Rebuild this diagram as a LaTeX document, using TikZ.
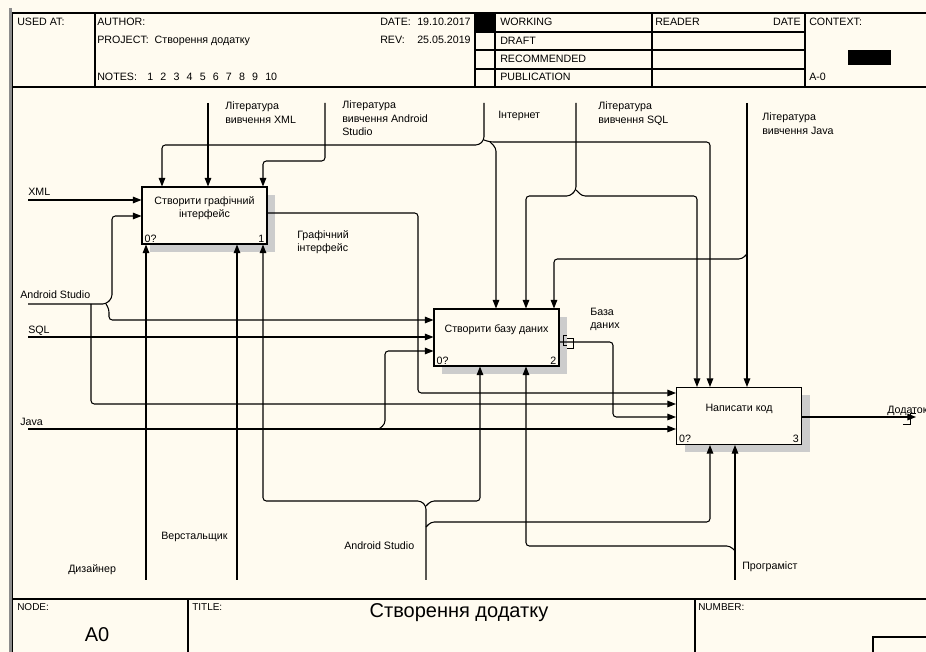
\documentclass[tikz,border=0pt]{standalone}
\usepackage{fontspec}
\setmainfont{Liberation Sans}
\usetikzlibrary{arrows.meta, positioning, patterns, shadows}
\definecolor{paper}{RGB}{255,251,240}

\begin{document}
\begin{tikzpicture}[x=0.75pt, y=-0.75pt,
  every node/.style={font=\fontsize{8}{10}\selectfont, inner sep=0pt},
  txt/.style={anchor=north west, align=left},
  big/.style={font=\fontsize{15}{18}\selectfont, anchor=base},
  small/.style={font=\fontsize{7.5}{9}\selectfont, anchor=north west},
  fn/.style={draw, line width=0.8pt, fill=paper, minimum width=93.75pt, minimum height=42.75pt,
    align=center, text depth=13pt,
    drop shadow={shadow xshift=6pt, shadow yshift=-6pt, opacity=1, fill=black!20}},
  arr/.style={line width=0.8pt, rounded corners=2.5pt, -{Triangle[length=6.5pt, width=5pt]}},
  tun/.style={line width=0.7pt},
  grid/.style={line width=1pt}]
\fill[paper] (0,0) rectangle (926,652);
\useasboundingbox (0,0) rectangle (926,652);
\draw[black!45, line width=1.6pt] (10.5,8) -- (10.5,652);
\draw[grid] (12.5,13) -- (12.5,652);
\draw[grid] (12,13) -- (926,13);
\draw[grid] (12,87) -- (926,87);
\draw[grid] (95,13) -- (95,87);
\draw[grid] (475,13) -- (475,87);
\draw[grid] (495,13) -- (495,87);
\draw[grid] (652,13) -- (652,87);
\draw[grid] (805,13) -- (805,87);
\foreach \y in {32,50,69} \draw[grid] (475,\y) -- (805,\y);
\fill (475,13) rectangle (495,32);
\fill (848,50) rectangle (891,65);
\draw[grid] (12,599) -- (926,599);
\draw[grid] (188,599) -- (188,652);
\draw[grid] (695,599) -- (695,652);
\draw[grid] (873,637) rectangle (940,670);
\node[txt] (usedat) at (17,18) {USED AT:};
\node[txt] (author) at (97,18) {AUTHOR:};
\node[txt] (project) at (97,36) {PROJECT:\ \ Створення додатку};
\node[txt] (notes) at (97,73) {NOTES:};
\foreach \n in {1,...,10} \node[txt] (note\n) at ({134+13.1*\n},73) {\n};
\node[txt] (date) at (380,18) {DATE:};
\node[txt] (dateval) at (417,18) {19.10.2017};
\node[txt] (rev) at (380,36) {REV:};
\node[txt] (revval) at (417,36) {25.05.2019};
\node[txt] (working) at (500,18) {WORKING};
\node[txt] (draft) at (500,37) {DRAFT};
\node[txt] (recommended) at (500,55) {RECOMMENDED};
\node[txt] (publication) at (500,73) {PUBLICATION};
\node[txt] (reader) at (655,18) {READER};
\node[anchor=north east] (readerdate) at (801,18) {DATE};
\node[txt] (context) at (809,18) {CONTEXT:};
\node[txt] (aminus) at (809,73) {A-0};
\node[small] (nodelbl) at (17,603) {NODE:};
\node[big] (nodeval) at (97,642) {A0};
\node[small] (titlelbl) at (192,603) {TITLE:};
\node[big] (titleval) at (459,618) {Створення додатку};
\node[small] (numberlbl) at (698,603) {NUMBER:};

\node[fn] (b1) at (204.5,215.5) {Створити графічний\\інтерфейс};
\node[fn] (b2) at (496.5,337.5) {Створити базу даних};
\node[fn] (b3) at (739,416) {Написати код};
\node[anchor=south west] (b1n) at ([shift={(3,-2)}]b1.south west) {0?};
\node[anchor=south east] (b1i) at ([shift={(-3,-2)}]b1.south east) {1};
\node[anchor=south west] (b2n) at ([shift={(3,-2)}]b2.south west) {0?};
\node[anchor=south east] (b2i) at ([shift={(-3,-2)}]b2.south east) {2};
\node[anchor=south west] (b3n) at ([shift={(3,-2)}]b3.south west) {0?};
\node[anchor=south east] (b3i) at ([shift={(-3,-2)}]b3.south east) {3};

\coordinate (xml) at (28,200);
\coordinate (asL) at (28,304);
\coordinate (sql) at (28,337);
\coordinate (java) at (28,429);
\draw[arr] (xml) -- (b1.west |- xml);
\draw[arr] (asL) -- (106,304) -- (112,298) -- (112,216) -- (b1.west |- 0,216);
\draw[arr] (106,304) -- (109,309) |- (b2.west |- 0,320);
\draw[arr] (91,304) |- (b3.west |- 0,404);
\draw[arr] (sql) -- (b2.west |- sql);
\draw[arr] (java) -- (b3.west |- java);
\draw[arr] (379,429) -- (385,424) |- (b2.west |- 0,351);
\node[txt] (lxml) at (28,188) {XML};
\node[txt] (las) at (20,291) {Android Studio};
\node[txt] (lsql) at (28,326) {SQL};
\node[txt] (ljava) at (20,418) {Java};

\coordinate (app) at (916,417);
\draw[arr] (b1.east |- 0,213) -- (418,213) -- (418,393) -- (b3.west |- 0,393);
\draw[arr] (b2.east |- 0,342) -- (613,342) -- (613,417) -- (b3.west |- 0,417);
\draw[arr] (b3.east |- app) -- (app);
\draw[tun] (567,335) -- (563,335) -- (563,345) -- (567,345);
\draw[tun] (567,338) -- (573,338) -- (573,348) -- (567,348);
\draw[tun] (903,424) -- (910,424) -- (910,413) -- (916,413);
\node[txt] (lgui) at (297,230) {Графічний\\інтерфейс};
\node[txt] (ldb) at (590,308) {База\\даних};
\node[txt] (lapp) at (887,406) {Додаток};

\coordinate (litxml) at (208,103);
\coordinate (litas) at (325,103);
\coordinate (inet) at (484,103);
\coordinate (litsql) at (576,103);
\coordinate (litjava) at (747,103);
\draw[arr] (litxml) -- (litxml |- b1.north);
\draw[arr] (litas) -- (325,161) -- (263,161) -- (263,0 |- b1.north);
\draw[arr] (inet) -- (484,140) -- (479,145) -- (162,145) -- (162,0 |- b1.north);
\draw[arr] (484,140) -- (490,142) -- (710,142) -- (710,0 |- b3.north);
\draw[arr] (490,142) -- (496,148) -- (496,0 |- b2.north);
\draw[arr] (litsql) -- (576,190) -- (570,196) -- (526,196) -- (526,0 |- b2.north);
\draw[arr] (576,190) -- (582,196) -- (697,196) -- (697,0 |- b3.north);
\draw[arr] (litjava) -- (litjava |- b3.north);
\draw[arr] (747,254) -- (742,259) -- (554,259) -- (554,0 |- b2.north);
\node[txt] (llitxml) at (225,102) {Література\\вивчення XML};
\node[txt] (llitas) at (342,101) {Література\\вивчення Android\\Studio};
\node[txt] (linet) at (498,111) {Інтернет};
\node[txt] (llitsql) at (598,102) {Література\\вивчення SQL};
\node[txt] (llitjava) at (762,113) {Література\\вивчення Java};

\coordinate (designer) at (146,580);
\coordinate (maker) at (237,580);
\coordinate (asB) at (426,580);
\coordinate (coder) at (735,580);
\draw[arr] (designer) -- (designer |- b1.south);
\draw[arr] (maker) -- (maker |- b1.south);
\draw[arr] (asB) -- (426,506) -- (421,501) -- (263,501) -- (263,0 |- b1.south);
\draw[arr] (426,506) -- (431,501) -- (480,501) -- (480,0 |- b2.south);
\draw[arr] (426,527) -- (431,522) -- (710,522) -- (710,0 |- b3.south);
\draw[arr] (coder) -- (coder |- b3.south);
\draw[arr] (735,551) -- (730,546) -- (526,546) -- (526,0 |- b2.south);
\node[txt] (ldesigner) at (68,564) {Дизайнер};
\node[txt] (lmaker) at (161,532) {Верстальщик};
\node[txt] (lasB) at (344,542) {Android Studio};
\node[txt] (lcoder) at (742,562) {Програміст};
\end{tikzpicture}
\end{document}
